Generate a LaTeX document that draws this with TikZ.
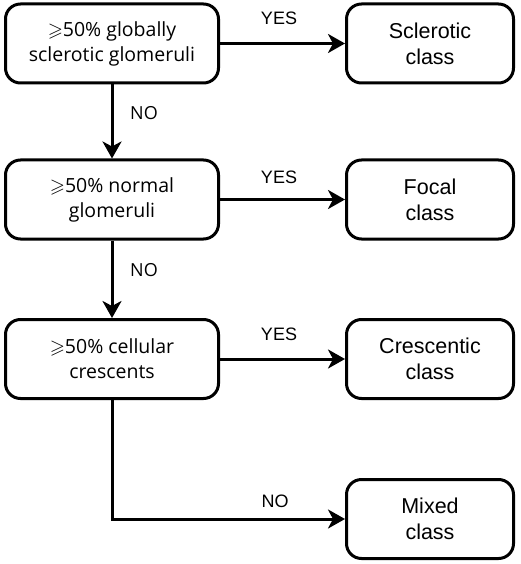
\documentclass[tikz,border=0pt]{standalone}
\usepackage{amssymb}
\usepackage{fontspec}
\setmainfont{Liberation Sans}
\newfontfamily\leftfont{Open Sans}
\usetikzlibrary{arrows.meta}
\begin{document}
\begin{tikzpicture}[x=1pt,y=-1pt,
  qbox/.style={draw, line width=3pt, rounded corners=15pt, minimum width=213pt, minimum height=79pt, align=center, inner sep=0pt, font=\leftfont\fontsize{19.5}{25}\selectfont},
  cbox/.style={draw, line width=3pt, rounded corners=15pt, minimum width=167pt, minimum height=79pt, align=center, inner sep=0pt, font=\fontsize{21.5}{26}\selectfont},
  arr/.style={line width=3pt, -{Stealth[length=17pt,width=19pt,inset=5pt]}},
  ylab/.style={font=\fontsize{18}{20}\selectfont, inner sep=0pt},
  nlab/.style={font=\leftfont\fontsize{18}{20}\selectfont, inner sep=0pt}]
\useasboundingbox (0,0) rectangle (520,564);
\node[qbox] (q1) at (112,43.5) {$\geqslant$50\% globally\\sclerotic glomeruli};
\node[qbox] (q2) at (112,199.5) {$\geqslant$50\% normal\\glomeruli};
\node[qbox] (q3) at (112,359) {$\geqslant$50\% cellular\\crescents};
\node[cbox] (c1) at (430,43.5) {Sclerotic\\class};
\node[cbox] (c2) at (430,199.5) {Focal\\class};
\node[cbox] (c3) at (430,359) {Crescentic\\class};
\node[cbox] (c4) at (430,519) {Mixed\\class};
\draw[arr] (q1.east) -- (c1.west);
\draw[arr] (q2.east) -- (c2.west);
\draw[arr] (q3.east) -- (c3.west);
\draw[arr] (q1.south) -- (q2.north);
\draw[arr] (q2.south) -- (q3.north);
\draw[arr] (q3.south) |- (c4.west);
\node[ylab] (y1) at (279,18) {YES};
\node[ylab] (y2) at (279,177) {YES};
\node[ylab] (y3) at (279,334) {YES};
\node[ylab] (n3) at (275,501) {NO};
\node[nlab] (n1) at (144,113) {NO};
\node[nlab] (n2) at (144,270) {NO};
\end{tikzpicture}
\end{document}
